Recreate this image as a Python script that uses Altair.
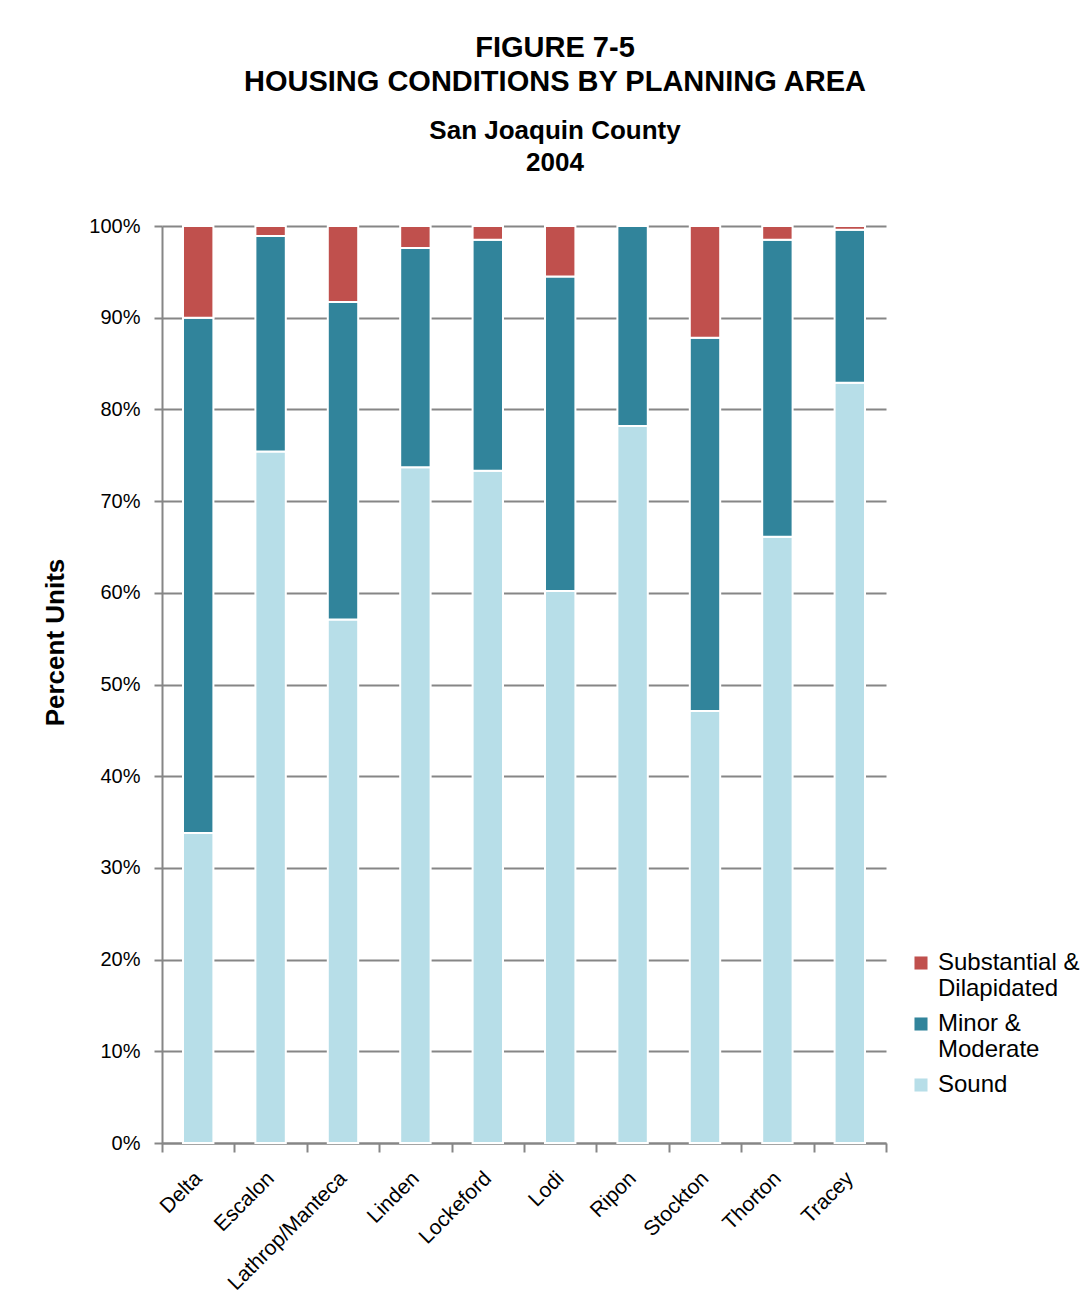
import altair as alt
import pandas as pd

areas = ["Delta", "Escalon", "Lathrop/Manteca", "Linden", "Lockeford",
         "Lodi", "Ripon", "Stockton", "Thorton", "Tracey"]
sound = [33.8, 75.4, 57.1, 73.7, 73.3, 60.2, 78.2, 47.1, 66.1, 82.9]
minor = [56.2, 23.5, 34.6, 23.9, 25.2, 34.3, 21.8, 40.7, 32.4, 16.7]
substantial = [10.0, 1.1, 8.3, 2.4, 1.5, 5.5, 0.0, 12.2, 1.5, 0.4]

conditions = ["Substantial & Dilapidated", "Minor & Moderate", "Sound"]
colors = ["#C0504D", "#31849B", "#B7DEE8"]
stack_order = {"Sound": 0, "Minor & Moderate": 1, "Substantial & Dilapidated": 2}

rows = []
for i, a in enumerate(areas):
    for cond, vals in (("Sound", sound), ("Minor & Moderate", minor),
                       ("Substantial & Dilapidated", substantial)):
        rows.append({"area": a, "condition": cond, "value": vals[i] / 100.0,
                     "ord": stack_order[cond]})
df = pd.DataFrame(rows)

FONT = "Liberation Sans, Arial"

chart = alt.Chart(df).mark_bar(
    width={"band": 0.42}, stroke="white", strokeWidth=2
).encode(
    x=alt.X("area:N", sort=areas, title=None,
            scale=alt.Scale(paddingInner=0, paddingOuter=0),
            axis=alt.Axis(labelAngle=-45, labelAlign="right", labelBaseline="middle",
                          labelFontSize=21, labelColor="#000000", labelPadding=23,
                          tickBand="extent", tickSize=9, tickColor="#868686",
                          tickWidth=2, domainColor="#868686", domainWidth=2,
                          grid=False)),
    y=alt.Y("value:Q", stack="zero", title="Percent Units",
            scale=alt.Scale(domain=[0, 1]),
            axis=alt.Axis(format=".0%", values=[i / 10 for i in range(11)],
                          labelFontSize=20, labelColor="#000000", labelPadding=14,
                          tickSize=8, tickColor="#868686", tickWidth=2,
                          domainColor="#868686", domainWidth=2,
                          gridColor="#868686", gridWidth=2,
                          titleFontSize=26, titleFontWeight="bold", titleColor="#000000",
                          titleX=-107, titleY=416, titleAngle=-90,
                          titleAlign="center", titleBaseline="middle")),
    color=alt.Color("condition:N", sort=conditions,
                    scale=alt.Scale(domain=conditions, range=colors),
                    legend=alt.Legend(title=None, orient="none", legendX=747, legendY=725,
                                      symbolType="square", symbolSize=170,
                                      symbolStrokeWidth=0, labelFontSize=24,
                                      labelColor="#000000", labelLimit=300,
                                      labelExpr="datum.label == 'Substantial & Dilapidated' ? ['Substantial &', 'Dilapidated'] : datum.label == 'Minor & Moderate' ? ['Minor &', 'Moderate'] : datum.label",
                                      rowPadding=11, labelOffset=5)),
    order=alt.Order("ord:Q", sort="ascending"),
).properties(
    width=724, height=917,
    title=alt.TitleParams(
        text=["FIGURE 7-5", "HOUSING CONDITIONS BY PLANNING AREA"],
        subtitle=["San Joaquin  County", "2004"],
        fontSize=29, fontWeight="bold", lineHeight=34, color="#000000",
        subtitleFontSize=26, subtitleFontWeight="bold", subtitleLineHeight=32,
        subtitleColor="#000000", subtitlePadding=21, subtitleFont=FONT,
        anchor="middle", dx=31, offset=40),
    padding={"left": 162, "top": 226, "right": 206, "bottom": 172},
    autosize=alt.AutoSizeParams(type="none"),
).configure(
    font=FONT,
    background="white",
).configure_view(
    stroke=None
)

chart.save("out.html", embed_options={"renderer": "svg", "actions": False})
